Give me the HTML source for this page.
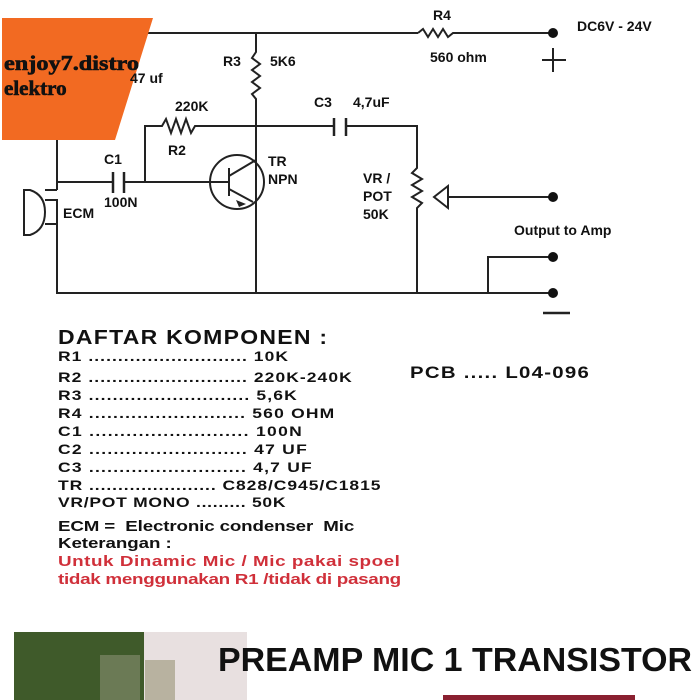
<!DOCTYPE html>
<html><head><meta charset="utf-8"><style>
html,body{margin:0;padding:0;background:#fff;width:700px;height:700px;overflow:hidden}
svg text{font-family:"Liberation Sans",sans-serif;font-weight:bold;white-space:pre}
svg text.ser{font-family:"Liberation Serif",serif;font-weight:bold}
</style></head><body>
<svg width="700" height="700" viewBox="0 0 700 700" xmlns="http://www.w3.org/2000/svg" xml:space="preserve">
<g stroke="#222" stroke-width="2" fill="none">
<path d="M140 33 H418"/>
<path d="M418 33 l5 -4 l5 8 l5 -8 l5 8 l5 -8 l5 8 l5 -4 H553"/>
<path d="M256 33 V52 l-4 6 l8 6 l-8 6 l8 6 l-8 6 l8 6 l-8 6 l4 5 V293"/>
<path d="M145 182 V126 H162 l4 -7 l5 14 l5 -14 l5 14 l5 -14 l5 14 l4 -7 H334"/>
<path d="M334 118 V136 M346 118 V136" stroke-width="2.5"/>
<path d="M346 126 H417 V168 l-5 5 l10 6 l-10 6 l10 6 l-10 6 l10 6 l-5 5 V293"/>
<path d="M448 186 L434 197 L448 208 Z"/>
<path d="M448 197 H553"/>
<path d="M57 140 V190 M45 200 H57 V293 H553"/>
<path d="M57 182 H113 M125 182 H230"/>
<path d="M113 172 V193 M124 172 V193" stroke-width="2.5"/>
<circle cx="237" cy="182" r="27"/>
<path d="M229 168 V196 M229 176 L256 160 M229 189 L253 202"/>
<path d="M45 190 H57 M45 224 H57"/>
<path d="M24 190 H30 Q45 195 45 212 Q45 230 30 235 H24 Z"/>
<path d="M488 293 V257 H553"/>
<path d="M543 313 H570" stroke-width="2.5"/>
<path d="M553 48 V72 M542 60 H566" stroke-width="2"/>
</g>
<path d="M236 200 l10 4 l-7 3 z" fill="#222"/>
<g fill="#111">
<circle cx="553" cy="33" r="5"/><circle cx="553" cy="197" r="5"/>
<circle cx="553" cy="257" r="5"/><circle cx="553" cy="293" r="5"/>
</g>
<path d="M2 18 H153 L115 140 H2 Z" fill="#f26a22"/>
<g font-size="14" fill="#111">
<text x="130" y="83">47 uf</text>
<text x="223" y="66">R3</text><text x="270" y="66">5K6</text>
<text x="175" y="111">220K</text><text x="168" y="155">R2</text>
<text x="104" y="164">C1</text><text x="104" y="207">100N</text>
<text x="63" y="218">ECM</text>
<text x="268" y="166">TR</text><text x="268" y="184">NPN</text>
<text x="314" y="107">C3</text><text x="353" y="107">4,7uF</text>
<text x="363" y="183">VR /</text><text x="363" y="201">POT</text><text x="363" y="219">50K</text>
<text x="433" y="20">R4</text><text x="430" y="62">560 ohm</text>
<text x="577" y="31">DC6V - 24V</text>
<text x="514" y="235">Output to Amp</text>
</g>
<text class="ser" transform="translate(4,70)" font-size="21" fill="#111" stroke="#111" stroke-width="0.6" textLength="135" lengthAdjust="spacingAndGlyphs">enjoy7.distro</text>
<text class="ser" transform="translate(4,95)" font-size="21" fill="#111" stroke="#111" stroke-width="0.6">elektro</text>
<text transform="translate(58,344) scale(1.15,1)" font-size="20" fill="#111" textLength="234" lengthAdjust="spacing">DAFTAR KOMPONEN :</text>
<g font-size="14" fill="#111">
<text transform="translate(58,361) scale(1.25,1)" textLength="184" lengthAdjust="spacing">R1 ........................... 10K</text>
<text transform="translate(58,382) scale(1.25,1)" textLength="235" lengthAdjust="spacing">R2 ........................... 220K-240K</text>
<text transform="translate(58,400) scale(1.25,1)" textLength="191" lengthAdjust="spacing">R3 ........................... 5,6K</text>
<text transform="translate(58,418) scale(1.25,1)" textLength="221" lengthAdjust="spacing">R4 .......................... 560 OHM</text>
<text transform="translate(58,436) scale(1.25,1)" textLength="195" lengthAdjust="spacing">C1 .......................... 100N</text>
<text transform="translate(58,454) scale(1.25,1)" textLength="199" lengthAdjust="spacing">C2 .......................... 47 UF</text>
<text transform="translate(58,472) scale(1.25,1)" textLength="203" lengthAdjust="spacing">C3 .......................... 4,7 UF</text>
<text transform="translate(58,490) scale(1.25,1)" textLength="258" lengthAdjust="spacing">TR ...................... C828/C945/C1815</text>
<text transform="translate(58,507) scale(1.25,1)" textLength="182" lengthAdjust="spacing">VR/POT MONO ......... 50K</text>
</g>
<g font-size="15" fill="#111">
<text transform="translate(58,531) scale(1.25,1)" textLength="237" lengthAdjust="spacing">ECM =  Electronic condenser  Mic</text>
<text transform="translate(58,548) scale(1.25,1)" textLength="91" lengthAdjust="spacing">Keterangan :</text>
</g>
<g font-size="14.5" fill="#d0303a">
<text transform="translate(58,566) scale(1.3,1)" textLength="263" lengthAdjust="spacing">Untuk Dinamic Mic / Mic pakai spoel</text>
<text transform="translate(58,584) scale(1.3,1)" textLength="264" lengthAdjust="spacing">tidak menggunakan R1 /tidak di pasang</text>
</g>
<text transform="translate(410,378) scale(1.2,1)" font-size="17" fill="#111" textLength="149" lengthAdjust="spacing">PCB ..... L04-096</text>
<rect x="14" y="632" width="233" height="68" fill="#e8e0e0"/>
<rect x="14" y="632" width="130" height="68" fill="#3f5a2a"/>
<rect x="100" y="655" width="40" height="45" fill="#6b7a55"/>
<rect x="145" y="660" width="30" height="40" fill="#b8b2a0"/>
<text x="218" y="671" font-size="33" fill="#111" textLength="474" lengthAdjust="spacingAndGlyphs">PREAMP MIC 1 TRANSISTOR</text>
<rect x="443" y="695" width="192" height="5" fill="#8a2030"/>
</svg>
</body></html>
